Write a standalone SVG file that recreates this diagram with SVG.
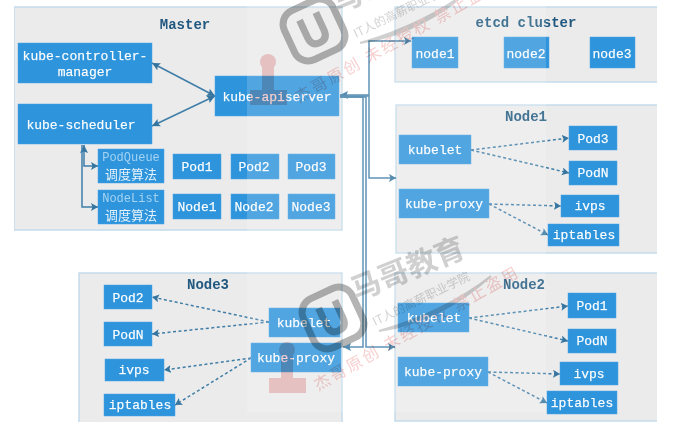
<svg xmlns="http://www.w3.org/2000/svg" width="691" height="426" viewBox="0 0 691 426">
<style>
.bg{fill:#ebebeb}
.bd{fill:none;stroke:#c3dbea;stroke-width:1.5}
.n{fill:#2e94dc;stroke:#4ba3e2;stroke-width:.5}
.t{font-family:"Liberation Mono","DejaVu Sans Mono",monospace;font-size:13px;fill:#fff;text-anchor:middle;stroke:#fff;stroke-width:.25;stroke-opacity:.7}
.q{font-family:"Liberation Mono",monospace;font-size:12px;fill:#a5d3f2;text-anchor:middle}
.c{font-family:"Noto Sans CJK SC",sans-serif;font-size:13px;fill:#e4f2fb;text-anchor:middle}
.h{font-family:"Liberation Mono",monospace;font-size:14px;font-weight:bold;fill:#20597f;text-anchor:middle}
.s{fill:none;stroke:#3f7ea8;stroke-width:1.5}
.d{fill:none;stroke:#3f7ea8;stroke-width:1.5;stroke-dasharray:3 2.5;marker-end:url(#a)}
.wg{font-family:"Noto Sans CJK SC",sans-serif}
</style>
<defs>
<filter id="b" x="0" y="0" width="100%" height="100%"><feGaussianBlur stdDeviation="0.4"/></filter>
<marker id="a" markerUnits="userSpaceOnUse" markerWidth="9" markerHeight="9" refX="7" refY="4" orient="auto"><path d="M0 0L7 4L0 8L1.5 4Z" fill="#35759f"/></marker>
<marker id="e" markerUnits="userSpaceOnUse" markerWidth="10" markerHeight="10" refX="8" refY="4.5" orient="auto-start-reverse"><path d="M0 0.5L8 4.5L0 8.500L1.500 4.500Z" fill="#35759f"/></marker>
<g id="wm">
<g transform="rotate(-25 333 318)" fill="none" stroke="#b4b4b4">
<rect x="306" y="291" width="54" height="54" rx="15" stroke-width="7"/>
<path d="M324 303V322Q324 332 333 332Q342 332 342 322V303" stroke-width="7"/>
</g>
<text class="wg" transform="translate(356,301) rotate(-22)" font-size="30" font-weight="700" fill="#d0d0d0">马哥教育</text>
<text class="wg" transform="translate(375,326) rotate(-26)" font-size="12" fill="#d4d4d4">IT人的高薪职业学院</text>
<path d="M379 331Q440 322 491 276Q445 312 379 331Z" fill="#d0d0d0" stroke="#d0d0d0" stroke-width="2"/>
<text class="wg" transform="translate(318,391) rotate(-29.700)" font-size="16" letter-spacing="2.500" fill="#f8d0d0">杰哥原创 未经授权 禁止盗用</text>
<circle cx="287" cy="350" r="8" fill="#f6cfcf"/>
<path d="M281 356H293V378H281Z" fill="#f6cfcf"/>
<rect x="269" y="378" width="37" height="15" fill="#f6cfcf"/>
</g>
</defs>
<rect width="691" height="426" fill="#fff"/>
<g filter="url(#b)">
<g id="master"><rect class="bg" x="14" y="7" width="328" height="223"/><rect class="bd" x="14" y="7" width="328" height="223"/><text class="h" x="185" y="29">Master</text></g>
<g id="etcd"><rect class="bg" x="395" y="7" width="262" height="75"/><path class="bd" d="M657 7H395V82H657"/><text class="h" x="526" y="27">etcd cluster</text></g>
<g id="node1"><rect class="bg" x="396" y="105" width="261" height="148"/><path class="bd" d="M657 105H396V253H657"/><text class="h" x="526" y="121">Node1</text></g>
<g id="node2"><rect class="bg" x="395" y="273" width="262" height="148"/><path class="bd" d="M657 273H395V421H657"/><text class="h" x="524" y="289">Node2</text></g>
<g id="node3"><rect class="bg" x="79" y="273" width="263" height="149"/><path class="bd" d="M79 422V273H342V422"/><text class="h" x="208" y="289">Node3</text></g>

<g id="connectors">
<path class="s" d="M152 63L215 96" marker-start="url(#e)" marker-end="url(#e)"/>
<path class="s" d="M152 126L215 96" marker-start="url(#e)" marker-end="url(#e)"/>
<path class="s" d="M84 145V166H98" marker-start="url(#e)" marker-end="url(#a)"/>
<path class="s" d="M82 145V207H98" marker-end="url(#a)"/>
<path class="s" d="M340 95H369V41H411" marker-start="url(#e)" marker-end="url(#a)"/>
<path class="s" d="M340 96H369V178H396" marker-end="url(#a)"/>
<path class="s" d="M340 97H363V347H343" marker-end="url(#e)"/>
<path class="s" d="M340 97H366V347H395" marker-end="url(#a)"/>
<path class="d" d="M471 150L569 138"/><path class="d" d="M471 150L569 173"/>
<path class="d" d="M489 204L561 206"/><path class="d" d="M489 204L548 235"/>
<path class="d" d="M469 318L568 306"/><path class="d" d="M469 318L568 341"/>
<path class="d" d="M488 372L560 374"/><path class="d" d="M488 372L547 403"/>
<path class="d" d="M269 322L152 297"/><path class="d" d="M269 322L152 334"/>
<path class="d" d="M251 358L164 370"/><path class="d" d="M251 358L175 405"/>
</g>

<g id="controller"><rect class="n" x="18" y="43" width="134" height="40"/><text class="t" x="85" y="60">kube-controller-</text><text class="t" x="85" y="76">manager</text></g>
<g id="scheduler"><rect class="n" x="18" y="104" width="134" height="40"/><text class="t" x="81" y="129">kube-scheduler</text></g>
<g id="apiserver"><rect class="n" x="215" y="76" width="124" height="40"/><text class="t" x="277" y="101">kube-apiserver</text></g>
<g id="podqueue"><rect class="n" x="98" y="149" width="66" height="34"/><text class="q" x="131" y="161">PodQueue</text><text class="c" x="131" y="179">调度算法</text></g>
<g id="nodelist"><rect class="n" x="98" y="190" width="66" height="34"/><text class="q" x="131" y="202">NodeList</text><text class="c" x="131" y="220">调度算法</text></g>
<g id="m-pod1"><rect class="n" x="173" y="154" width="48" height="25"/><text class="t" x="197" y="171">Pod1</text></g>
<g id="m-pod2"><rect class="n" x="231" y="154" width="48" height="25"/><text class="t" x="254" y="171">Pod2</text></g>
<g id="m-pod3"><rect class="n" x="288" y="154" width="47" height="25"/><text class="t" x="311" y="171">Pod3</text></g>
<g id="m-node1"><rect class="n" x="173" y="194" width="48" height="25"/><text class="t" x="197" y="211">Node1</text></g>
<g id="m-node2"><rect class="n" x="231" y="194" width="48" height="25"/><text class="t" x="254" y="211">Node2</text></g>
<g id="m-node3"><rect class="n" x="288" y="194" width="47" height="25"/><text class="t" x="311" y="211">Node3</text></g>

<g id="e-node1"><rect class="n" x="412" y="37" width="46" height="31"/><text class="t" x="435" y="58">node1</text></g>
<g id="e-node2"><rect class="n" x="504" y="37" width="45" height="31"/><text class="t" x="526" y="58">node2</text></g>
<g id="e-node3"><rect class="n" x="590" y="37" width="45" height="31"/><text class="t" x="612" y="58">node3</text></g>

<g id="n1-kubelet"><rect class="n" x="399" y="135" width="72" height="29"/><text class="t" x="435" y="154">kubelet</text></g>
<g id="n1-proxy"><rect class="n" x="399" y="189" width="90" height="29"/><text class="t" x="444" y="208">kube-proxy</text></g>
<g id="n1-pod3"><rect class="n" x="569" y="126" width="48" height="24"/><text class="t" x="593" y="143">Pod3</text></g>
<g id="n1-podn"><rect class="n" x="569" y="161" width="48" height="24"/><text class="t" x="593" y="177">PodN</text></g>
<g id="n1-ivps"><rect class="n" x="561" y="195" width="58" height="22"/><text class="t" x="590" y="210">ivps</text></g>
<g id="n1-iptables"><rect class="n" x="548" y="224" width="71" height="22"/><text class="t" x="584" y="239">iptables</text></g>

<g id="n2-kubelet"><rect class="n" x="398" y="303" width="71" height="29"/><text class="t" x="434" y="322">kubelet</text></g>
<g id="n2-proxy"><rect class="n" x="398" y="357" width="90" height="29"/><text class="t" x="443" y="376">kube-proxy</text></g>
<g id="n2-pod1"><rect class="n" x="568" y="293" width="48" height="25"/><text class="t" x="592" y="310">Pod1</text></g>
<g id="n2-podn"><rect class="n" x="568" y="329" width="48" height="24"/><text class="t" x="592" y="345">PodN</text></g>
<g id="n2-ivps"><rect class="n" x="560" y="362" width="58" height="23"/><text class="t" x="589" y="378">ivps</text></g>
<g id="n2-iptables"><rect class="n" x="547" y="391" width="70" height="23"/><text class="t" x="582" y="407">iptables</text></g>

<g id="n3-kubelet"><rect class="n" x="269" y="308" width="71" height="29"/><text class="t" x="304" y="327">kubelet</text></g>
<g id="n3-proxy"><rect class="n" x="251" y="343" width="90" height="29"/><text class="t" x="296" y="362">kube-proxy</text></g>
<g id="n3-pod2"><rect class="n" x="104" y="285" width="48" height="24"/><text class="t" x="128" y="302">Pod2</text></g>
<g id="n3-podn"><rect class="n" x="104" y="322" width="48" height="24"/><text class="t" x="128" y="339">PodN</text></g>
<g id="n3-ivps"><rect class="n" x="105" y="359" width="59" height="22"/><text class="t" x="134" y="374">ivps</text></g>
<g id="n3-iptables"><rect class="n" x="104" y="394" width="71" height="22"/><text class="t" x="140" y="409">iptables</text></g>

<rect x="247" y="0" width="299" height="412" fill="#fff" fill-opacity=".17"/>
<g style="mix-blend-mode:multiply"><use href="#wm"/><use href="#wm" transform="translate(-19,-288)"/></g>
</g>
</svg>
